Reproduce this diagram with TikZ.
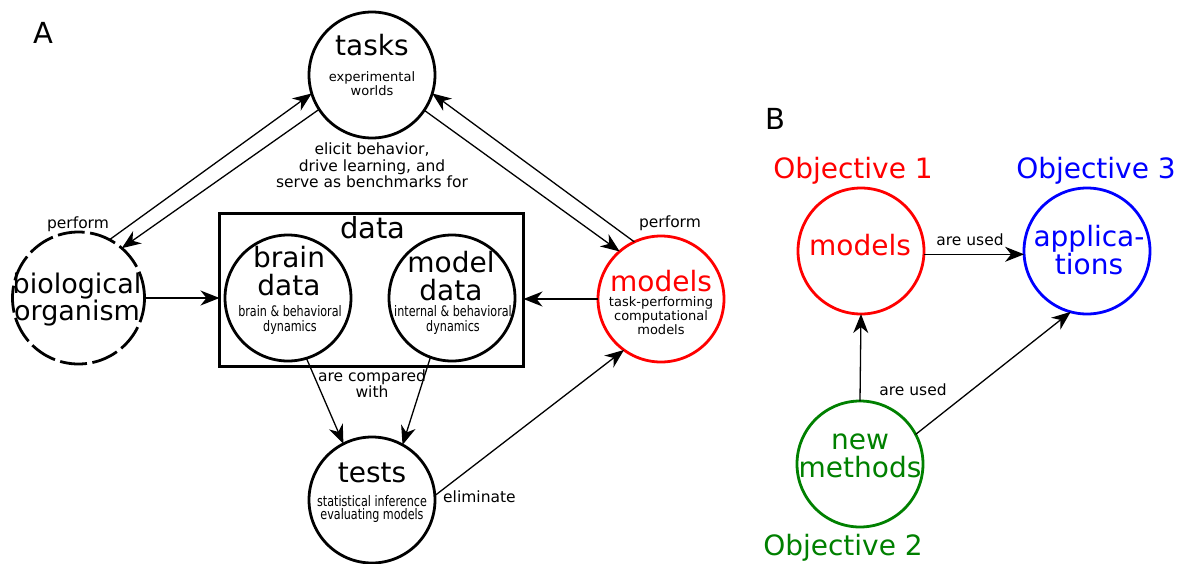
\documentclass[tikz,border=0pt]{standalone}
\usepackage{fontspec}
\setmainfont{DejaVu Sans}
\newfontfamily\condfont[FakeStretch=0.77]{DejaVu Sans}
\usepackage{xcolor}
\usepackage{tikz}
\usetikzlibrary{arrows.meta,positioning,calc}
\definecolor{objred}{HTML}{FF0000}
\definecolor{objblue}{HTML}{0000FF}
\definecolor{objgreen}{HTML}{008000}

\begin{document}
\begin{tikzpicture}[
  x=1pt, y=-1pt,
  circ/.style={
    circle, draw, line width=2.8pt, minimum size=126pt,
    inner sep=0pt, outer sep=0pt
  },
  arr/.style={-{Stealth[length=19pt,width=15pt,inset=6pt]}, line width=1.3pt},
  lab/.style={font=\fontsize{15.5}{14}\selectfont, align=center, inner sep=0pt},
  ttl/.style={font=\fontsize{28}{28}\selectfont, align=center, inner sep=0pt},
  sub/.style={font=\fontsize{13}{14}\selectfont, align=center, inner sep=0pt},
  cnd/.style={font=\condfont\fontsize{14.5}{15}\selectfont, align=center, inner sep=0pt}
]
  \useasboundingbox (0,0) rectangle (1179,563);

  % panel A: circles and data box
  \node[circ] (tasks)  at (372, 75)  {};
  \node[circ, minimum size=132pt, dash pattern=on 27pt off 5.5pt] (bio) at (78.5, 298) {};
  \node[draw, line width=2.8pt, minimum width=304pt, minimum height=153pt,
        inner sep=0pt, outer sep=0pt] (data) at (371.5, 290) {};
  \node[circ] (brain)  at (288, 298) {};
  \node[circ] (model)  at (452, 298) {};
  \node[circ, draw=objred] (models) at (661, 299) {};
  \node[circ] (tests)  at (372, 500) {};

  % panel A: texts
  \node[font=\fontsize{29}{29}\selectfont, inner sep=0pt] (lblA) at (43.5, 32.5) {A};
  \node[ttl, anchor=base] (tasksT) at (372, 55) {tasks};
  \node[sub] (tasksS) at (372, 83.5) {experimental\\worlds};
  \node[lab, font=\fontsize{15.5}{16.5}\selectfont] (elicit) at (372, 165.5)
    {elicit behavior,\\drive learning, and\\serve as benchmarks for};
  \node[lab, anchor=base] (perfL) at (78, 228) {perform};
  \node[ttl, font=\fontsize{27}{23}\selectfont] (bioT) at (77, 299.5) {biological\\organism};
  \node[ttl, anchor=base, font=\fontsize{29}{29}\selectfont] (dataT) at (373, 238) {data};
  \node[ttl] (brainT) at (289, 270.75) {brain\\data};
  \node[cnd] (brainS) at (290, 320) {brain \& behavioral\\dynamics};
  \node[ttl] (modelT) at (451, 275.75) {model\\data};
  \node[cnd] (modelS) at (453, 320) {internal \& behavioral\\dynamics};
  \node[ttl, anchor=base, text=objred] (modelsT) at (661, 291) {models};
  \node[sub] (modelsS) at (661, 316) {task-performing\\computational\\models};
  \node[lab, anchor=base] (perfR) at (670, 227) {perform};
  \node[lab] (compared) at (372, 384) {are compared\\with};
  \node[ttl, anchor=base] (testsT) at (372, 482) {tests};
  \node[cnd, font=\condfont\fontsize{14.5}{13}\selectfont] (testsS) at (372, 509)
    {statistical inference\\evaluating models};
  \node[lab, anchor=base west] (elim) at (443, 502) {eliminate};

  % panel A: connectors
  \draw[arr] (bio.62) -- (tasks.197);
  \draw[arr] (tasks.213) -- (bio.49);
  \draw[arr] (models.115) -- (tasks.343);
  \draw[arr] (tasks.326) -- (models.131);
  \draw[arr] (bio.east) -- (bio.east -| data.west);
  \draw[arr] (models.west) -- (models.west -| data.east);
  \draw[arr] (brain.287) -- (tests.117);
  \draw[arr] (model.250) -- (tests.61);
  \draw[arr] (tests.4) -- (models.234);

  % panel B
  \node[font=\fontsize{29}{29}\selectfont, inner sep=0pt] (lblB) at (775, 118.5) {B};
  \node[circ, draw=objred]   (obj1) at (861, 251) {};
  \node[circ, draw=objblue]  (apps) at (1087, 251) {};
  \node[circ, draw=objgreen] (newm) at (860, 464) {};
  \node[ttl, anchor=base, text=objred]  (obj1L) at (853, 178) {Objective 1};
  \node[ttl, anchor=base, text=objblue] (obj3L) at (1096, 178) {Objective 3};
  \node[ttl, anchor=base, text=objgreen] (obj2L) at (843, 555) {Objective 2};
  \node[ttl, anchor=base, text=objred] (obj1T) at (860, 255) {models};
  \node[ttl, text=objblue] (appsT) at (1089, 250) {applica-\\tions};
  \node[ttl, text=objgreen] (newmT) at (860, 455.5) {new\\methods};
  \node[lab, anchor=base] (used1) at (970, 245) {are used};
  \node[lab, anchor=base] (used2) at (913, 395) {are used};

  \draw[arr] (obj1.-3) -- (apps.183);
  \draw[arr] (newm.north) -- (obj1.south);
  \draw[arr] (newm.28) -- (apps.255);
\end{tikzpicture}
\end{document}
